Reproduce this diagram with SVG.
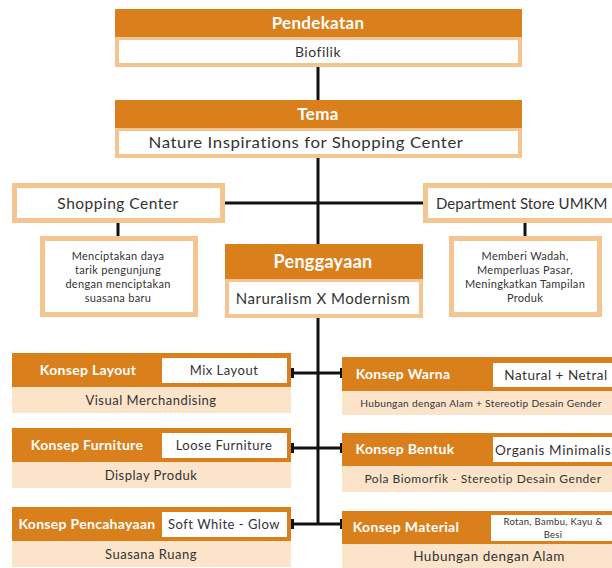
<svg xmlns="http://www.w3.org/2000/svg" width="612" height="568" viewBox="0 0 612 568">
<style>
.hd{fill:#D9801C}
.bx{fill:#ffffff;stroke:#F4C590;stroke-width:4}
.bx5{fill:#ffffff;stroke:#F4C590;stroke-width:5}
.wb{fill:#ffffff}
.sb{fill:#FCE4CA}
.ht{font-family:Lato,"Open Sans",sans-serif;font-weight:700;fill:#ffffff;text-anchor:middle;letter-spacing:0.3px}
.t{font-family:Lato,"Open Sans",sans-serif;fill:#333333;text-anchor:middle;letter-spacing:0.5px}
.s{letter-spacing:0.3px}
.ln{stroke:#111111;stroke-width:3;fill:none}
</style>
<defs>
<marker id="bar" markerWidth="4" markerHeight="12" refX="2" refY="6" orient="auto" markerUnits="userSpaceOnUse">
<rect x="0" y="1" width="4" height="10" fill="#111111"/>
</marker>
</defs>
<rect width="612" height="568" fill="#ffffff"/>
<g id="connectors">
<line class="ln" x1="318" y1="67" x2="318" y2="100"/>
<line class="ln" x1="318" y1="158" x2="318" y2="244"/>
<line class="ln" x1="225" y1="203" x2="423" y2="203"/>
<line class="ln" x1="118" y1="223" x2="118" y2="236"/>
<line class="ln" x1="525" y1="223" x2="525" y2="236"/>
<line class="ln" x1="318" y1="318" x2="318" y2="525"/>
<line class="ln" x1="318" y1="373" x2="292" y2="373" marker-end="url(#bar)"/>
<line class="ln" x1="318" y1="448" x2="292" y2="448" marker-end="url(#bar)"/>
<line class="ln" x1="318" y1="524" x2="292" y2="524" marker-end="url(#bar)"/>
<line class="ln" x1="318" y1="373" x2="342" y2="373" marker-end="url(#bar)"/>
<line class="ln" x1="318" y1="448" x2="342" y2="448" marker-end="url(#bar)"/>
<line class="ln" x1="318" y1="524" x2="342" y2="524" marker-end="url(#bar)"/>
</g>
<g id="pendekatan">
<rect class="bx" x="117" y="38" width="403" height="27"/>
<rect class="hd" x="115" y="9" width="407" height="28"/>
<text class="ht" x="318" y="29" font-size="17">Pendekatan</text>
<text class="t" x="318" y="57" font-size="14">Biofilik</text>
</g>
<g id="tema">
<rect class="bx" x="117" y="129" width="403" height="27"/>
<rect class="hd" x="115" y="100" width="407" height="28"/>
<text class="ht" x="318" y="120" font-size="17">Tema</text>
<text class="t" x="306" y="148" font-size="15" textLength="315" lengthAdjust="spacingAndGlyphs">Nature Inspirations for Shopping Center</text>
</g>
<g id="shopping-center">
<rect class="bx5" x="14.5" y="185.5" width="208" height="35"/>
<text class="t" x="118" y="209" font-size="15.5">Shopping Center</text>
</g>
<g id="shopping-center-desc">
<rect class="bx5" x="42.5" y="238.5" width="153" height="76"/>
<text class="t s" font-size="11"><tspan x="118" y="260">Menciptakan daya</tspan><tspan x="118" y="274">tarik pengunjung</tspan><tspan x="118" y="288">dengan menciptakan</tspan><tspan x="118" y="302">suasana baru</tspan></text>
</g>
<g id="department-store">
<rect class="bx5" x="425.5" y="185.5" width="190" height="35"/>
<text class="t" x="522" y="209" font-size="15" textLength="172" lengthAdjust="spacing">Department Store UMKM</text>
</g>
<g id="department-store-desc">
<rect class="bx5" x="451.5" y="238.5" width="148" height="76"/>
<text class="t s" font-size="11"><tspan x="525" y="260">Memberi Wadah,</tspan><tspan x="525" y="274">Memperluas Pasar,</tspan><tspan x="525" y="288">Meningkatkan Tampilan</tspan><tspan x="525" y="302">Produk</tspan></text>
</g>
<g id="penggayaan">
<rect class="bx" x="227" y="280" width="194" height="36"/>
<rect class="hd" x="225" y="244" width="198" height="35"/>
<text class="ht" x="323" y="268" font-size="18">Penggayaan</text>
<text class="t" x="323" y="304" font-size="15">Naruralism X Modernism</text>
</g>
<g id="konsep-layout">
<rect class="sb" x="12" y="387" width="279" height="26"/>
<rect class="hd" x="12" y="353" width="279" height="34"/>
<rect class="wb" x="162" y="358" width="125" height="25"/>
<text class="ht" x="88" y="375" font-size="14">Konsep Layout</text>
<text class="t" x="224" y="375" font-size="13">Mix Layout</text>
<text class="t" x="151" y="405" font-size="13">Visual Merchandising</text>
</g>
<g id="konsep-furniture">
<rect class="sb" x="12" y="462" width="279" height="26"/>
<rect class="hd" x="12" y="428" width="279" height="34"/>
<rect class="wb" x="162" y="433" width="125" height="25"/>
<text class="ht" x="87" y="450" font-size="14">Konsep Furniture</text>
<text class="t" x="224" y="450" font-size="13">Loose Furniture</text>
<text class="t" x="151" y="480" font-size="13">Display Produk</text>
</g>
<g id="konsep-pencahayaan">
<rect class="sb" x="12" y="541" width="279" height="26"/>
<rect class="hd" x="12" y="507" width="279" height="34"/>
<rect class="wb" x="162" y="512" width="125" height="25"/>
<text class="ht" x="87" y="529" font-size="14">Konsep Pencahayaan</text>
<text class="t" x="224" y="529" font-size="13">Soft White - Glow</text>
<text class="t" x="151" y="559" font-size="13">Suasana Ruang</text>
</g>
<g id="konsep-warna">
<rect class="sb" x="342" y="391" width="270" height="24"/>
<rect class="hd" x="342" y="357" width="270" height="34"/>
<rect class="wb" x="493" y="363" width="119" height="24"/>
<text class="ht" x="403" y="379" font-size="14">Konsep Warna</text>
<text class="t" x="556" y="380" font-size="13.5">Natural + Netral</text>
<text class="t s" x="481" y="407" font-size="10.2">Hubungan dengan Alam + Stereotip Desain Gender</text>
</g>
<g id="konsep-bentuk">
<rect class="sb" x="342" y="466" width="270" height="26"/>
<rect class="hd" x="342" y="433" width="270" height="33"/>
<rect class="wb" x="493" y="437" width="119" height="25"/>
<text class="ht" x="405" y="454" font-size="14">Konsep Bentuk</text>
<text class="t" x="553" y="455" font-size="13.5" textLength="116" lengthAdjust="spacing">Organis Minimalis</text>
<text class="t" x="483" y="483" font-size="12">Pola Biomorfik - Stereotip Desain Gender</text>
</g>
<g id="konsep-material">
<rect class="sb" x="342" y="544" width="270" height="24"/>
<rect class="hd" x="342" y="511" width="270" height="33"/>
<rect class="wb" x="491" y="515" width="121" height="26"/>
<text class="ht" x="406" y="532" font-size="14">Konsep Material</text>
<text class="t s" font-size="9.5"><tspan x="553" y="525">Rotan, Bambu, Kayu &amp;</tspan><tspan x="553" y="538">Besi</tspan></text>
<text class="t" x="489" y="561" font-size="13.5">Hubungan dengan Alam</text>
</g>
</svg>
